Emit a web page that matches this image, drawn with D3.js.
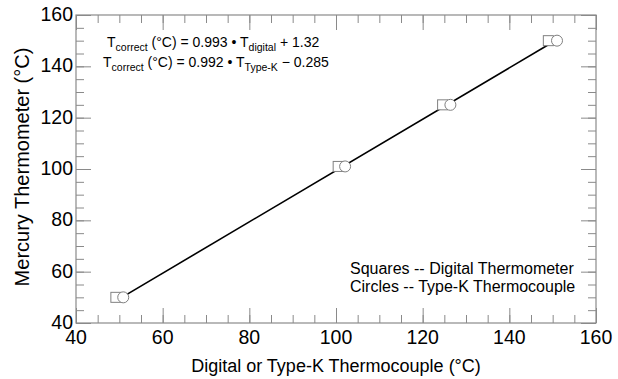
<!DOCTYPE html>
<html>
<head>
<meta charset="utf-8">
<script src="https://cdn.jsdelivr.net/npm/d3@7"></script>
<style>
  body { margin: 0; background: #fff; }
  svg { font-family: "Liberation Sans", Arial, Helvetica, sans-serif; }
</style>
</head>
<body>
<svg id="chart" width="618" height="379"></svg>
<script>
// data
const mercury = [50, 101, 125, 150];
const digital = [49.2, 100.5, 124.6, 149];
const typeK = [50.9, 102.1, 126.4, 151];
// fitted line end points
const fitX = [50, 149];
const fitY = [49.4, 148.4];
const xTicks = [40, 60, 80, 100, 120, 140, 160];
const yTicks = [40, 60, 80, 100, 120, 140, 160];

const margin = { top: 15, right: 22, bottom: 56, left: 76 };
const width = 618, height = 379;

const svg = d3.select("#chart");

const x = d3.scaleLinear().domain([40, 160]).range([margin.left, width - margin.right]);
const y = d3.scaleLinear().domain([40, 160]).range([height - margin.bottom, margin.top]);

const minor = d3.range(40, 161, 5);
const frameColor = "#8a8a8a";

// ticks on all four sides, pointing inward
function tickAxis(axis, transform) {
  const g = svg.append("g").attr("transform", transform);
  g.call(axis);
  g.select(".domain").remove();
  g.selectAll("line").attr("stroke", frameColor);
  g.selectAll("text").remove();
  return g;
}

tickAxis(d3.axisBottom(x).tickValues(minor).tickSize(-8), `translate(0,${y(40)})`);
tickAxis(d3.axisBottom(x).tickValues(xTicks).tickSize(-15), `translate(0,${y(40)})`);
tickAxis(d3.axisTop(x).tickValues(minor).tickSize(-8), `translate(0,${y(160)})`);
tickAxis(d3.axisTop(x).tickValues(xTicks).tickSize(-15), `translate(0,${y(160)})`);
tickAxis(d3.axisLeft(y).tickValues(minor).tickSize(-8), `translate(${x(40)},0)`);
tickAxis(d3.axisLeft(y).tickValues(yTicks).tickSize(-15), `translate(${x(40)},0)`);
tickAxis(d3.axisRight(y).tickValues(minor).tickSize(-8), `translate(${x(160)},0)`);
tickAxis(d3.axisRight(y).tickValues(yTicks).tickSize(-15), `translate(${x(160)},0)`);

// frame
svg.append("rect")
  .attr("x", x(40)).attr("y", y(160))
  .attr("width", x(160) - x(40)).attr("height", y(40) - y(160))
  .attr("fill", "none").attr("stroke", frameColor).attr("stroke-width", 1.2);

// tick labels
svg.append("g").selectAll("text").data(xTicks).join("text")
  .attr("x", d => x(d)).attr("y", y(40) + 21)
  .attr("text-anchor", "middle").attr("font-size", 19.5)
  .text(d => d);

svg.append("g").selectAll("text").data(yTicks).join("text")
  .attr("x", x(40) - 3).attr("y", d => y(d) + 6)
  .attr("text-anchor", "end").attr("font-size", 19.5)
  .text(d => d);

// axis titles
svg.append("text")
  .attr("x", x(100)).attr("y", 372)
  .attr("text-anchor", "middle").attr("font-size", 18)
  .text("Digital or Type-K Thermocouple (°C)");

svg.append("text")
  .attr("transform", `translate(29,${y(100) - 2}) rotate(-90)`)
  .attr("text-anchor", "middle").attr("font-size", 20)
  .text("Mercury Thermometer (°C)");

// fit line
const line = d3.line().x(d => x(d[0])).y(d => y(d[1]));
svg.append("path")
  .attr("d", line(d3.zip(fitX, fitY)))
  .attr("fill", "none").attr("stroke", "#000").attr("stroke-width", 1.6);

// markers
const markerColor = "#808080";
svg.append("g").selectAll("rect").data(d3.zip(digital, mercury)).join("rect")
  .attr("x", d => x(d[0]) - 5).attr("y", d => y(d[1]) - 5)
  .attr("width", 10).attr("height", 10)
  .attr("fill", "#fff").attr("stroke", markerColor).attr("stroke-width", 1);

svg.append("g").selectAll("circle").data(d3.zip(typeK, mercury)).join("circle")
  .attr("cx", d => x(d[0])).attr("cy", d => y(d[1]))
  .attr("r", 5.5)
  .attr("fill", "#fff").attr("stroke", markerColor).attr("stroke-width", 1);

// equations
function equation(yPos, x0, sub1, rest, sub2, tail) {
  const t = svg.append("text").attr("x", x0).attr("y", yPos).attr("font-size", 14);
  t.append("tspan").text("T");
  t.append("tspan").attr("dy", 4).attr("font-size", 10.5).text(sub1);
  t.append("tspan").attr("dy", -4).text(rest);
  t.append("tspan").attr("dy", 4).attr("font-size", 10.5).text(sub2);
  t.append("tspan").attr("dy", -4).text(tail);
}
equation(47, 107, "correct", " (°C) = 0.993 • T", "digital", " + 1.32");
equation(67, 103, "correct", " (°C) = 0.992 • T", "Type-K", " − 0.285");

// legend note
svg.append("text").attr("x", 350).attr("y", 274).attr("font-size", 16)
  .text("Squares -- Digital Thermometer");
svg.append("text").attr("x", 350).attr("y", 292).attr("font-size", 16)
  .text("Circles -- Type-K Thermocouple");
</script>
</body>
</html>
